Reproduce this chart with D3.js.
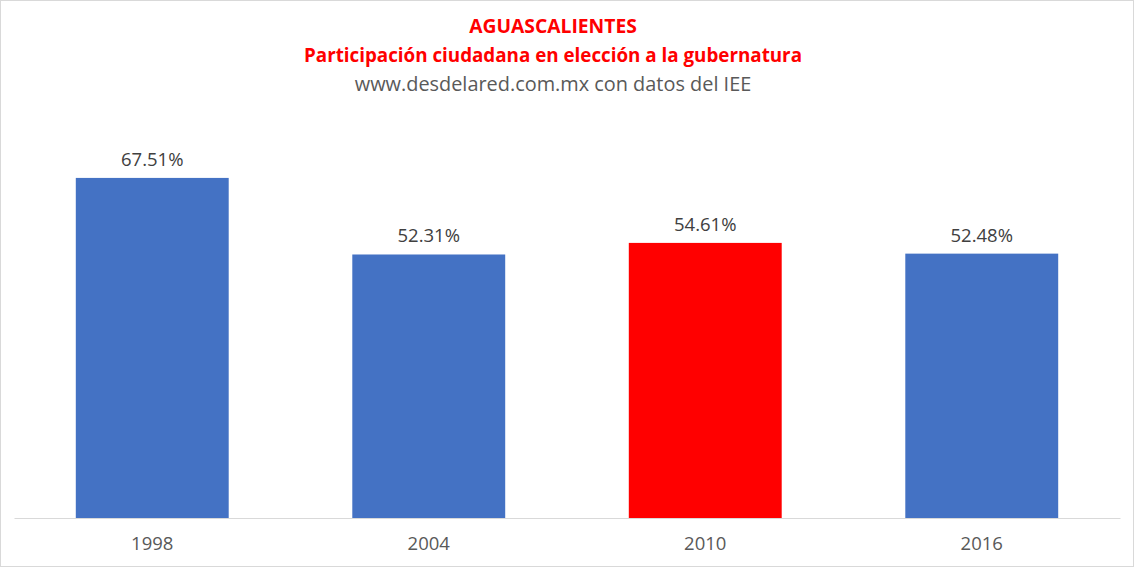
<!DOCTYPE html>
<html>
<head>
<meta charset="utf-8">
<script src="https://cdn.jsdelivr.net/npm/d3@7"></script>
<style>
  body { margin: 0; background: #fff; }
  text { font-family: "Open Sans", "Noto Sans", sans-serif; }
</style>
</head>
<body>
<svg id="chart" width="1134" height="567"></svg>
<script>
// data
let years = ["1998", "2004", "2010", "2016"];
let participation = [67.51, 52.31, 54.61, 52.48];
let barColors = ["#4472C4", "#4472C4", "#FF0000", "#4472C4"];

let titleLines = ["AGUASCALIENTES", "Participación ciudadana en elección a la gubernatura"];
let subtitle = "www.desdelared.com.mx con datos del IEE";

let width = 1134, height = 567;
let margin = {top: 115, right: 14, bottom: 49, left: 14};
let titleX = 553;

let svg = d3.select("#chart");

// outer frame
svg.append("rect")
  .attr("x", 0.5).attr("y", 0.5)
  .attr("width", width - 1).attr("height", height - 1)
  .attr("fill", "#fff")
  .attr("stroke", "#d9d9d9");

let xScale = d3.scaleBand()
  .domain(years)
  .range([margin.left, width - margin.right])
  .paddingInner(0.447)
  .paddingOuter(0.2235);

let yScale = d3.scaleLinear()
  .domain([0, 80])
  .range([height - margin.bottom, margin.top]);

let data = years.map((y, i) => ({year: y, value: participation[i], color: barColors[i]}));

// bars
svg.append("g")
  .selectAll("rect")
  .data(data)
  .join("rect")
  .attr("x", d => xScale(d.year))
  .attr("y", d => yScale(d.value))
  .attr("width", xScale.bandwidth())
  .attr("height", d => yScale(0) - yScale(d.value))
  .attr("fill", d => d.color);

// value labels
svg.append("g")
  .selectAll("text")
  .data(data)
  .join("text")
  .attr("x", d => xScale(d.year) + xScale.bandwidth() / 2)
  .attr("y", d => yScale(d.value) - 12)
  .attr("text-anchor", "middle")
  .attr("font-size", 18.5)
  .attr("fill", "#404040")
  .text(d => d.value.toFixed(2) + "%");

// category axis
let xAxis = svg.append("g")
  .attr("transform", `translate(0,${yScale(0)})`)
  .call(d3.axisBottom(xScale).tickSize(0).tickPadding(19));
xAxis.select(".domain").attr("stroke", "#d9d9d9").attr("stroke-width", 1);
xAxis.selectAll(".tick text")
  .attr("font-family", "'Open Sans', 'Noto Sans', sans-serif")
  .attr("font-size", 18.5)
  .attr("fill", "#595959");

// titles
svg.append("text")
  .attr("x", titleX).attr("y", 33)
  .attr("text-anchor", "middle")
  .attr("font-size", 19.3).attr("font-weight", "bold")
  .attr("fill", "#FF0000")
  .text(titleLines[0]);

svg.append("text")
  .attr("x", titleX).attr("y", 62)
  .attr("text-anchor", "middle")
  .attr("font-size", 18.8).attr("font-weight", "bold")
  .attr("fill", "#FF0000")
  .text(titleLines[1]);

svg.append("text")
  .attr("x", titleX).attr("y", 91)
  .attr("text-anchor", "middle")
  .attr("font-size", 19.9)
  .attr("fill", "#595959")
  .text(subtitle);
</script>
</body>
</html>
